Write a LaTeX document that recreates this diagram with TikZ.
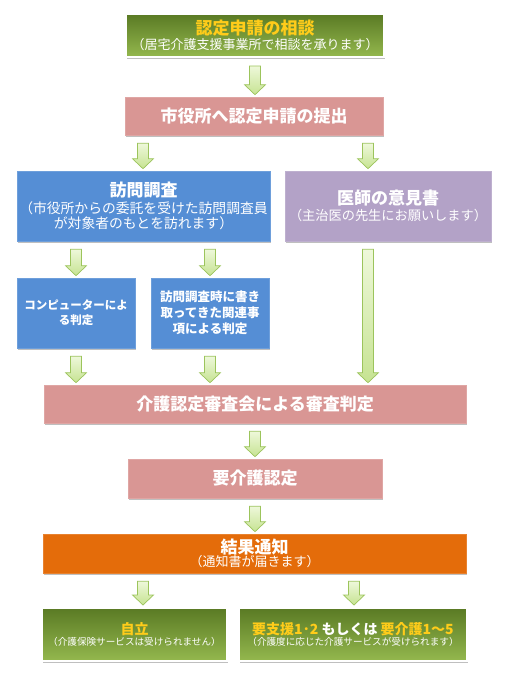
\documentclass[tikz,border=0pt]{standalone}
\usepackage{fontspec}
\setmainfont{Noto Sans CJK JP}
\newfontfamily\heavyjp{Noto Sans CJK JP Black}
\usetikzlibrary{shadows,calc}
\definecolor{pinkbox}{HTML}{D99694}
\definecolor{bluebox}{HTML}{558ED5}
\definecolor{purplebox}{HTML}{B3A2C7}
\definecolor{orangebox}{HTML}{E46C0A}
\definecolor{gtop}{HTML}{5A7A24}
\definecolor{gbot}{HTML}{94B84E}
\definecolor{ttlyellow}{HTML}{FFCC1A}
\definecolor{arrfilla}{HTML}{EEF8DA}
\definecolor{arrfillb}{HTML}{C6E392}
\definecolor{arrline}{HTML}{9CC45C}
\newcommand\mytitle[1]{{\fontsize{17}{20}\selectfont\heavyjp #1}}
\newcommand\mysub[1]{{\fontsize{13}{15.5}\selectfont #1}}
\newcommand\blkarrow[3]{%
  \draw[blockarrow] let \p1=([yshift=-8pt]#1.south), \p2=([yshift=2pt]#2.north), \p3=(#3,0) in
   (\x3-5.5pt,\y1) -- (\x3+5.5pt,\y1) -- (\x3+5.5pt,\y2+10pt) -- (\x3+10.5pt,\y2+10pt)
   -- (\x3,\y2) -- (\x3-10.5pt,\y2+10pt) -- (\x3-5.5pt,\y2+10pt) -- cycle;}
\tikzset{
  box/.style={rectangle, inner sep=0pt, align=center, text=white,
    font=\fontsize{12}{15}\selectfont,
    drop shadow={shadow xshift=1pt, shadow yshift=-1.5pt, opacity=0.25, fill=black}},
  pinkb/.style={box, fill=pinkbox, draw=pinkbox!85!white, line width=0.6pt},
  blueb/.style={box, fill=bluebox, draw=bluebox!85!white, line width=0.6pt},
  purpleb/.style={box, fill=purplebox, draw=purplebox!85!white, line width=0.6pt},
  orangeb/.style={box, fill=orangebox, draw=orangebox!85!white, line width=0.6pt},
  greenb/.style={box, top color=gtop, bottom color=gbot, draw=white, line width=2pt},
  blockarrow/.style={top color=arrfilla, bottom color=arrfillb, draw=arrline, line width=0.7pt, line join=miter},
}
\begin{document}
\begin{tikzpicture}[x=1pt,y=-1pt]
\useasboundingbox[fill=white] (0,0) rectangle (510,680);

\node[greenb, minimum width=258pt, minimum height=43pt] (top) at (255,35.5)
  {\mytitle{\textcolor{ttlyellow}{認定申請の相談}}\\[0pt]\mysub{（居宅介護支援事業所で相談を承ります）}};
\node[pinkb, minimum width=258pt, minimum height=38pt] (req) at (254,116)
  {\mytitle{市役所へ認定申請の提出}};
\node[blueb, minimum width=253pt, minimum height=70pt] (visit) at (143.5,206)
  {\mytitle{訪問調査}\\[2pt]{\fontsize{13.8}{15.5}\selectfont（市役所からの委託を受けた訪問調査員}\\{\fontsize{13.8}{15.5}\selectfont が対象者のもとを訪れます）}};
\node[purpleb, minimum width=206pt, minimum height=70pt] (doc) at (388,206)
  {\mytitle{医師の意見書}\\[1pt]{\fontsize{13.2}{15}\selectfont（主治医の先生にお願いします）}};
\node[blueb, minimum width=118pt, minimum height=70pt, font=\fontsize{11.5}{15}\selectfont\heavyjp] (comp) at (76,313)
  {コンピューターによ\\る判定};
\node[blueb, minimum width=118pt, minimum height=70pt, font=\fontsize{12.5}{16}\selectfont\heavyjp] (rec) at (210,313)
  {訪問調査時に書き\\取ってきた関連事\\項による判定};
\node[pinkb, minimum width=422pt, minimum height=38pt] (board) at (255,404)
  {\mytitle{介護認定審査会による審査判定}};
\node[pinkb, minimum width=254pt, minimum height=39pt] (care) at (255,478.5)
  {\mytitle{要介護認定}};
\node[orangeb, minimum width=423pt, minimum height=39pt] (result) at (254.5,553.5)
  {\mytitle{結果通知}\\[-2pt]\mysub{（通知書が届きます）}};
\node[greenb, minimum width=185pt, minimum height=53pt, font=\fontsize{9.6}{11}\selectfont] (indep) at (134.5,634.5)
  {{\fontsize{14}{17}\selectfont\heavyjp\textcolor{ttlyellow}{自立}}\\（介護保険サービスは受けられません）};
\node[greenb, minimum width=228pt, minimum height=53pt, font=\fontsize{9.6}{11}\selectfont] (support) at (353,634.5)
  {{\fontsize{14}{17}\selectfont\heavyjp\textcolor{ttlyellow}{要支援1･2}\ もしくは\ \textcolor{ttlyellow}{要介護1～5}}\\（介護度に応じた介護サービスが受けられます）};

\blkarrow{top}{req}{255}
\blkarrow{req}{visit}{143}
\blkarrow{req}{doc}{368}
\blkarrow{visit}{comp}{76}
\blkarrow{visit}{rec}{210}
\blkarrow{doc}{board}{368}
\blkarrow{comp}{board}{76}
\blkarrow{rec}{board}{210}
\blkarrow{board}{care}{255}
\blkarrow{care}{result}{255}
\blkarrow{result}{indep}{143}
\blkarrow{result}{support}{354}
\end{tikzpicture}
\end{document}
